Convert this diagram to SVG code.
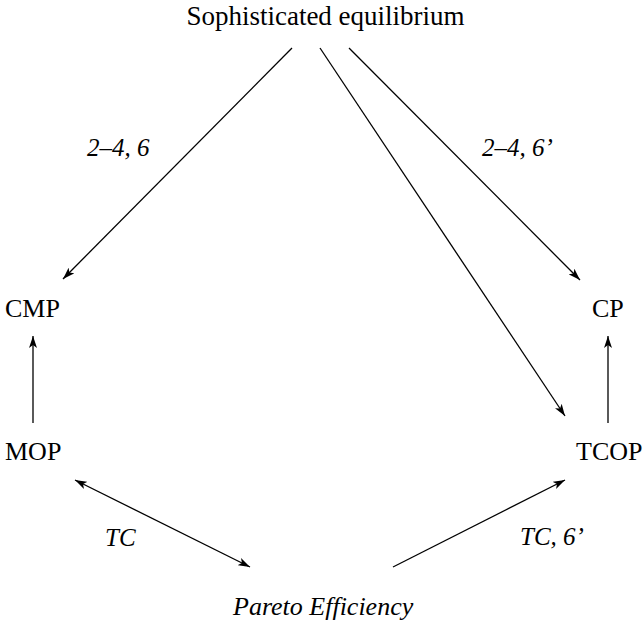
<svg xmlns="http://www.w3.org/2000/svg" width="643" height="624" viewBox="0 0 643 624">
<style>
text{font-family:'Liberation Serif','Times New Roman',serif;font-size:26px;fill:#000}
.i{font-style:italic}
.l{font-size:25px}
.c line{stroke:#000;stroke-width:1.3;fill:none}
</style>
<defs>
<marker id="ah" viewBox="0 0 12 8" refX="12" refY="4" markerWidth="12" markerHeight="8" markerUnits="userSpaceOnUse" orient="auto-start-reverse">
<path d="M0,0 L12,4 L0,8 L3,4 Z" fill="#000"/>
</marker>
</defs>
<rect width="643" height="624" fill="#fff"/>
<g id="se"><text x="325.5" y="25" text-anchor="middle" style="font-size:27px">Sophisticated equilibrium</text></g>
<g id="cmp"><text x="5" y="317">CMP</text></g>
<g id="cp"><text x="592" y="317">CP</text></g>
<g id="mop"><text x="5" y="460">MOP</text></g>
<g id="tcop"><text x="576" y="460">TCOP</text></g>
<g id="pe"><text class="i" x="233" y="615">Pareto Efficiency</text></g>
<g class="c" id="connectors">
<line x1="292" y1="48" x2="63" y2="279" marker-end="url(#ah)"/>
<line x1="320" y1="48" x2="565" y2="416" marker-end="url(#ah)"/>
<line x1="349" y1="48" x2="580" y2="280" marker-end="url(#ah)"/>
<line x1="33" y1="423" x2="33" y2="336" marker-end="url(#ah)"/>
<line x1="608" y1="423" x2="608" y2="336" marker-end="url(#ah)"/>
<line x1="75" y1="480" x2="250" y2="567" marker-start="url(#ah)" marker-end="url(#ah)"/>
<line x1="393" y1="567" x2="565" y2="480" marker-end="url(#ah)"/>
</g>
<g id="labels">
<text class="i l" x="87" y="156">2–4, 6</text>
<text class="i l" x="482" y="156">2–4, 6’</text>
<text class="i l" x="105" y="546">TC</text>
<text class="i l" x="520" y="545">TC, 6’</text>
</g>
</svg>
